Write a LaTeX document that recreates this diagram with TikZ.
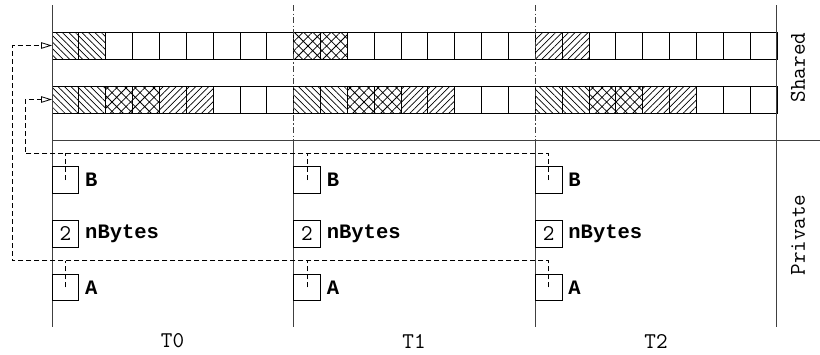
\documentclass[tikz,border=0pt]{standalone}
\usepackage{fontspec}
\newfontfamily\lbfont{Liberation Mono}
\usetikzlibrary{arrows.meta,patterns.meta}
\begin{document}
\begin{tikzpicture}[x=1pt,y=1pt,
  font=\ttfamily\fontsize{22.5}{26}\selectfont,
  cell/.style={draw=black, line width=0.9pt, minimum width=26.85pt, minimum height=27pt, inner sep=0pt, outer sep=0pt, anchor=north west},
  nw/.style={pattern={Lines[angle=-45,distance=4.6pt,line width=0.7pt]}},
  ne/.style={pattern={Lines[angle=45,distance=4.6pt,line width=0.7pt]}},
  xh/.style={pattern={Hatch[angle=45,distance=6.6pt,line width=0.75pt]}},
  frame/.style={draw=black!75, line width=1pt},
  dashdot/.style={draw=black!75, line width=0.9pt, dash pattern=on 6pt off 2.5pt on 1.2pt off 2.5pt},
  ptr/.style={draw=black, line width=0.8pt, dash pattern=on 5pt off 3pt},
  tip/.style={-{Triangle[open,length=11pt,width=6.5pt,line width=0.8pt]}},
  pbox/.style={draw=black, line width=0.9pt, minimum width=26.85pt, minimum height=26.7pt, inner sep=0pt, outer sep=0pt, anchor=north west},
  lbl/.style={anchor=west, inner sep=0pt, font=\lbfont\bfseries\fontsize{20.5}{24}\selectfont},
  side/.style={rotate=90, inner sep=0pt}
]
\useasboundingbox (0,0) rectangle (820,-354);

% patterns, row 1
\foreach \i/\p in {0/nw,1/nw,9/xh,10/xh,18/ne,19/ne}
  \path[\p] ({52+\i*26.85},-32) rectangle ++(26.85,-27);
% patterns, row 2
\foreach \s in {0,9,18}{
  \foreach \k/\p in {0/nw,1/nw,2/xh,3/xh,4/ne,5/ne}
    \path[\p] ({52+(\s+\k)*26.85},-86) rectangle ++(26.85,-27);
}
% cells
\foreach \i in {0,...,26}{
  \node[cell] (r1c\i) at ({52+\i*26.85},-32) {};
  \node[cell] (r2c\i) at ({52+\i*26.85},-86) {};
}

% frame lines
\draw[frame] (52,-5) -- (52,-327);
\draw[frame] (776.8,-5) -- (776.8,-327);
\draw[dashdot] (293.6,-5) -- (293.6,-140);
\draw[dashdot] (535.2,-5) -- (535.2,-140);
\draw[frame] (293.6,-140) -- (293.6,-327);
\draw[frame] (535.2,-140) -- (535.2,-327);
\draw[frame] (52,-140) -- (820,-140);

% private variables
\foreach \t/\x in {0/52,1/293.6,2/535.2}{
  \node[pbox] (B\t) at (\x,-166.7) {};
  \node[pbox] (N\t) at (\x,-220.3) {2};
  \node[pbox] (A\t) at (\x,-274) {};
  \node[lbl] (lB\t) at (\x+33,-180) {B};
  \node[lbl] (lN\t) at (\x+33,-233.6) {nBytes};
  \node[lbl] (lA\t) at (\x+33,-287.3) {A};
}

% pointers
\coordinate (bcorner) at (25,-153.3);
\coordinate (acorner) at (12,-260.7);
\draw[ptr,tip] (B2.center) |- (bcorner) |- (r2c0.west);
\draw[ptr] (B0.center) -- (B0.center |- bcorner);
\draw[ptr] (B1.center) -- (B1.center |- bcorner);
\draw[ptr,tip] (A2.center) |- (acorner) |- (r1c0.west);
\draw[ptr] (A0.center) -- (A0.center |- acorner);
\draw[ptr] (A1.center) -- (A1.center |- acorner);

% thread labels
\node (T0) at (172.5,-341) {T0};
\node (T1) at (414,-341) {T1};
\node (T2) at (656,-341) {T2};

% region labels
\node[side] (shared) at (798,-67.5) {Shared};
\node[side] (private) at (798,-235) {Private};
\end{tikzpicture}
\end{document}
